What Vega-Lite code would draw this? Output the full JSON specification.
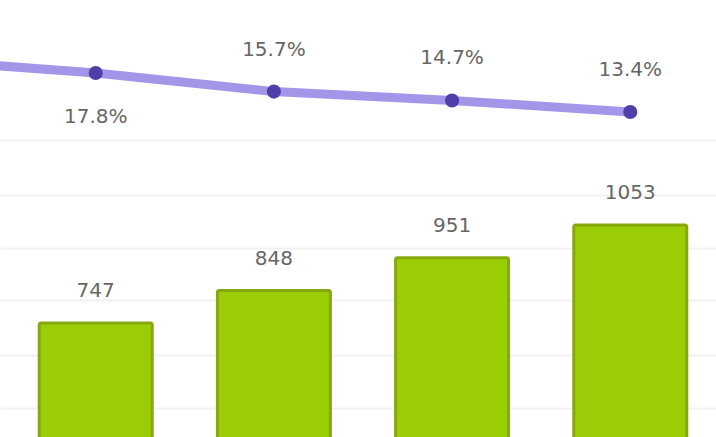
{
  "$schema": "https://vega.github.io/schema/vega-lite/v6.json",
  "autosize": {"type": "none"},
  "width": 716,
  "height": 437,
  "padding": 0,
  "background": "#ffffff",
  "config": {"view": {"stroke": null}},
  "data": {
    "values": [
      {"idx": 0, "value": null, "pct": 19.3, "pctLabel": ""},
      {"idx": 1, "value": 747, "pct": 17.8, "pctLabel": "17.8%"},
      {"idx": 2, "value": 848, "pct": 15.7, "pctLabel": "15.7%"},
      {"idx": 3, "value": 951, "pct": 14.7, "pctLabel": "14.7%"},
      {"idx": 4, "value": 1053, "pct": 13.4, "pctLabel": "13.4%"}
    ]
  },
  "encoding": {
    "x": {"field": "idx", "type": "quantitative", "scale": {"domain": [0.491, 4.453], "nice": false, "zero": false}, "axis": null}
  },
  "layer": [
    {
      "transform": [{"filter": "datum.value != null"}],
      "encoding": {
        "y": {"field": "value", "type": "quantitative", "scale": {"domain": [390.6, 1756], "nice": false, "zero": false},
          "axis": {"values": [481, 647, 819, 981, 1147, 1319], "labels": false, "ticks": false, "domain": false, "title": null, "grid": true, "gridColor": "#f1f1f1", "gridWidth": 2}}
      },
      "layer": [
        {
          "mark": {"type": "bar", "size": 113, "fill": "#9acd05", "fillOpacity": 1, "stroke": "#86a80e", "strokeWidth": 3, "cornerRadius": 2},
          "encoding": {"y2": {"datum": 300}}
        },
        {
          "mark": {"type": "text", "dy": -32, "baseline": "middle", "fontSize": 20, "font": "DejaVu Sans", "fill": "#666666"},
          "encoding": {
            "text": {"field": "value", "type": "quantitative"}
          }
        }
      ]
    },
    {
      "encoding": {
        "y": {"field": "pct", "type": "quantitative", "scale": {"domain": [-23.28, 26.04], "nice": false, "zero": false}, "axis": null}
      },
      "layer": [
        {
          "mark": {"type": "line", "stroke": "#978be6", "strokeWidth": 9, "opacity": 0.9}
        },
        {
          "mark": {"type": "point", "filled": true, "size": 200, "color": "#4f3fa8", "opacity": 1}
        },
        {
          "transform": [{"filter": "datum.idx == 1"}],
          "mark": {"type": "text", "dy": 44, "baseline": "middle", "fontSize": 20, "font": "DejaVu Sans", "fill": "#666666"},
          "encoding": {
            "text": {"field": "pctLabel", "type": "nominal"}
          }
        },
        {
          "transform": [{"filter": "datum.idx >= 2"}],
          "mark": {"type": "text", "dy": -42, "baseline": "middle", "fontSize": 20, "font": "DejaVu Sans", "fill": "#666666"},
          "encoding": {
            "text": {"field": "pctLabel", "type": "nominal"}
          }
        }
      ]
    }
  ],
  "resolve": {"scale": {"y": "independent"}}
}
